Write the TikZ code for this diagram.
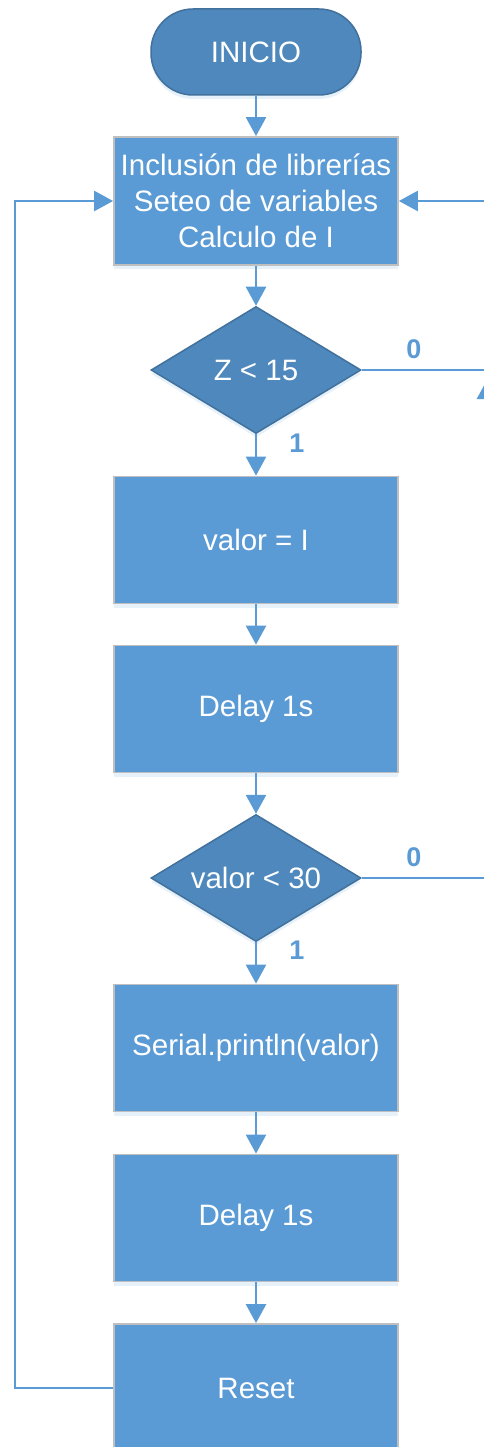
\documentclass[tikz,border=0pt]{standalone}
\usepackage{fontspec}
\setmainfont{Liberation Sans}
\usetikzlibrary{arrows.meta,shapes.geometric,shadows}
\definecolor{boxblue}{HTML}{5B9BD5}
\definecolor{darkblue}{HTML}{4E88BC}
\definecolor{darkedge}{HTML}{41719C}
\definecolor{boxedge}{HTML}{BFBFBF}
\definecolor{lineblue}{HTML}{5B9BD5}
\tikzset{
  procbox/.style={rectangle, draw=boxedge, line width=1.8pt, fill=boxblue, text=white,
    minimum width=284pt, minimum height=127pt, inner sep=0pt, align=center,
    font=\fontsize{29.5}{36}\selectfont,
    drop shadow={shadow xshift=0pt, shadow yshift=-4pt, fill=boxblue!40, opacity=0.35}},
  terminal/.style={rectangle, rounded corners=42pt, draw=darkedge, line width=1.5pt, fill=darkblue, text=white,
    minimum width=210pt, minimum height=86pt, inner sep=0pt, font=\fontsize{29.5}{36}\selectfont,
    drop shadow={shadow xshift=0pt, shadow yshift=-4pt, fill=boxblue!40, opacity=0.35}},
  decision/.style={diamond, draw=darkedge, line width=1.5pt, fill=darkblue, text=white,
    minimum width=210pt, minimum height=127pt, inner sep=0pt, aspect=1.65, font=\fontsize{29.5}{36}\selectfont,
    drop shadow={shadow xshift=0pt, shadow yshift=-4pt, fill=boxblue!40, opacity=0.35}},
  conn/.style={draw=lineblue, line width=2.6pt, -{Triangle[length=19pt,width=20pt]}},
  branchlabel/.style={text=lineblue, font=\fontsize{27}{30}\selectfont\bfseries, inner sep=0pt}
}
\begin{document}
\begin{tikzpicture}[x=1pt,y=-1pt]
\useasboundingbox (0,0) rectangle (484,1447);
\fill[white] (0,0) rectangle (484,1447);
\node[terminal] (inicio) at (256,52) {INICIO};
\node[procbox, minimum height=128pt] (setup) at (256,201) {Inclusión de librerías\\Seteo de variables\\Calculo de I};
\node[decision] (d1) at (256,370) {Z < 15};
\node[procbox] (valor) at (256,540) {valor = I};
\node[procbox] (delay1) at (256,709) {Delay 1s};
\node[decision] (d2) at (256,878) {valor < 30};
\node[procbox] (serial) at (256,1048) {Serial.println(valor)};
\node[procbox] (delay2) at (256,1218) {Delay 1s};
\node[procbox, minimum height=128pt] (reset) at (256,1388) {Reset};

\node[branchlabel] (l0a) at (414,349) {0};
\node[branchlabel] (l1a) at (297,443) {1};
\node[branchlabel] (l0b) at (414,857) {0};
\node[branchlabel] (l1b) at (297,950) {1};

\coordinate (loopL) at (15,1388);
\coordinate (rightA) at (505,370);
\coordinate (rightB) at (487,878);
\coordinate (rightBtop) at (487,380);

\draw[conn] (inicio) -- (setup);
\draw[conn] (setup) -- (d1);
\draw[conn] (d1) -- (valor);
\draw[conn] (valor) -- (delay1);
\draw[conn] (delay1) -- (d2);
\draw[conn] (d2) -- (serial);
\draw[conn] (serial) -- (delay2);
\draw[conn] (delay2) -- (reset);
\draw[conn] (reset.west) -- (loopL) |- (setup.west);
\draw[conn] (d1.east) -- (rightA) |- (setup.east);
\draw[conn] (d2.east) -- (rightB) -- (rightBtop);
\end{tikzpicture}
\end{document}
